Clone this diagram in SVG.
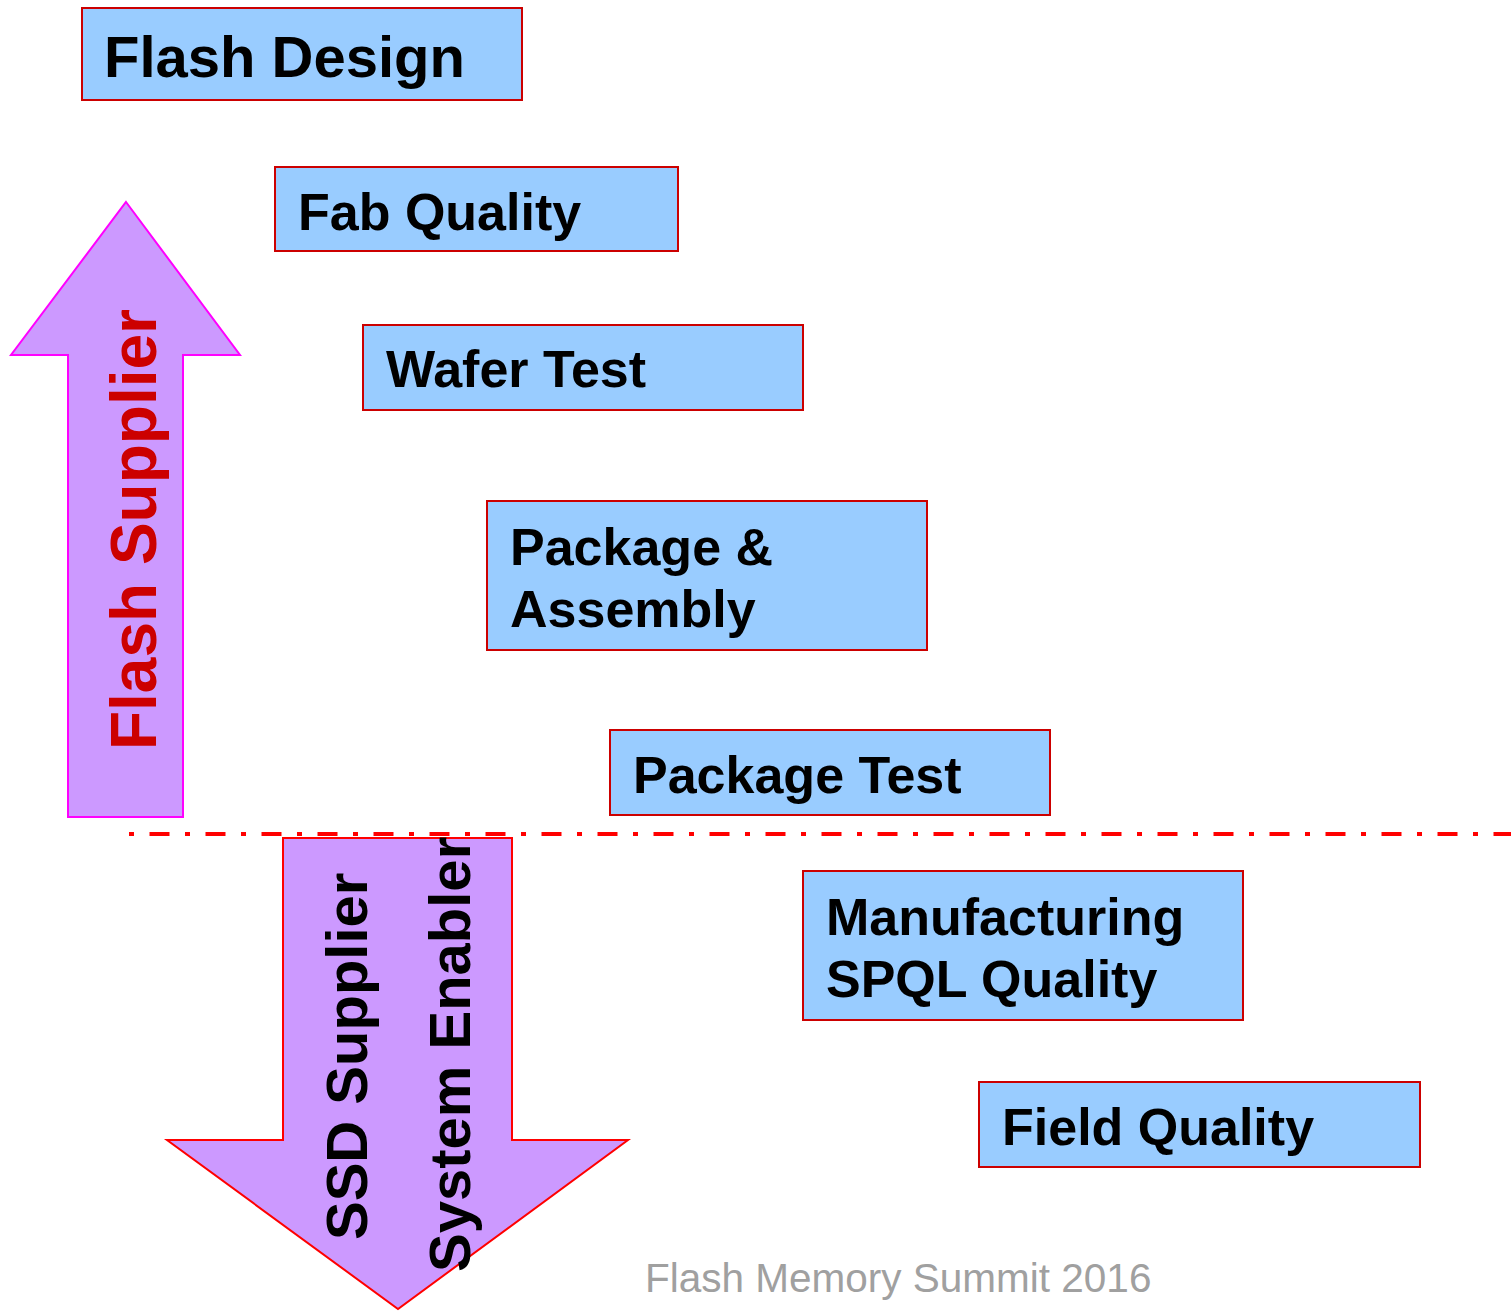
<svg xmlns="http://www.w3.org/2000/svg" width="1511" height="1311" viewBox="0 0 1511 1311">
<style>
.box{fill:#99CCFF;stroke:#CC0000;stroke-width:2}
.lbl{font-family:"Liberation Sans",Arial,sans-serif;font-weight:bold;font-size:52px;fill:#000}
.arr{fill:#CC99FF;stroke-width:2}
</style>
<rect width="1511" height="1311" fill="#fff"/>
<g id="connectors">
<line x1="129" y1="834" x2="1511" y2="834" stroke="#FF0000" stroke-width="4" stroke-dasharray="5 15.5 20 15.5"/>
</g>
<g id="flash-supplier-arrow">
<polygon class="arr" stroke="#FF00FF" points="126,202 240,355 183,355 183,817 68,817 68,355 11,355"/>
<text class="lbl" style="font-size:64px" fill="#CC0000" transform="translate(156,750) rotate(-90)"><tspan fill="#CC0000">Flash Supplier</tspan></text>
</g>
<g id="ssd-supplier-arrow">
<polygon class="arr" stroke="#FF0000" points="283,838 512,838 512,1140 628,1140 398,1309 167,1140 283,1140"/>
<text class="lbl" style="font-size:58px" transform="translate(367,1240) rotate(-90)">SSD Supplier</text>
<text class="lbl" style="font-size:58px" transform="translate(470,1272) rotate(-90)">System Enabler</text>
</g>
<g id="flash-design">
<rect class="box" x="82" y="8" width="440" height="92"/>
<text class="lbl" style="font-size:58px" x="104" y="77">Flash Design</text>
</g>
<g id="fab-quality">
<rect class="box" x="275" y="167" width="403" height="84"/>
<text class="lbl" x="298" y="230">Fab Quality</text>
</g>
<g id="wafer-test">
<rect class="box" x="363" y="325" width="440" height="85"/>
<text class="lbl" x="386" y="387">Wafer Test</text>
</g>
<g id="package-assembly">
<rect class="box" x="487" y="501" width="440" height="149"/>
<text class="lbl" x="510" y="565">Package &amp;</text>
<text class="lbl" x="510" y="627">Assembly</text>
</g>
<g id="package-test">
<rect class="box" x="610" y="730" width="440" height="85"/>
<text class="lbl" x="633" y="793">Package Test</text>
</g>
<g id="manufacturing">
<rect class="box" x="803" y="871" width="440" height="149"/>
<text class="lbl" x="826" y="935">Manufacturing</text>
<text class="lbl" x="826" y="997">SPQL Quality</text>
</g>
<g id="field-quality">
<rect class="box" x="979" y="1082" width="441" height="85"/>
<text class="lbl" x="1002" y="1145">Field Quality</text>
</g>
<text x="645" y="1292" font-family="'Liberation Sans',Arial,sans-serif" font-size="40.5" fill="#A0A0A0">Flash Memory Summit 2016</text>
</svg>
